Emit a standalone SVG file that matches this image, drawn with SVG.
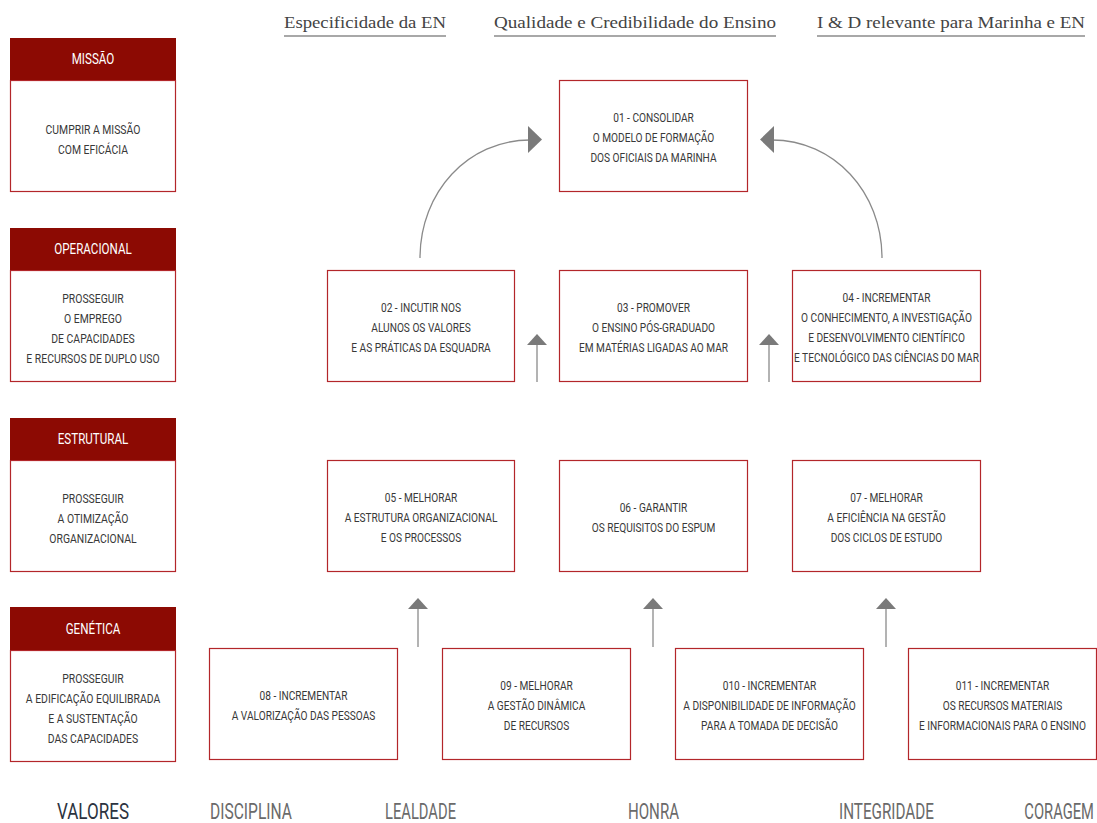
<svg xmlns="http://www.w3.org/2000/svg" width="1097" height="823" viewBox="0 0 1097 823">
  <defs>
    <style>
      .hdr { font-family: "Liberation Serif", "DejaVu Serif", serif; font-size: 16px; fill: #444; }
      .rule { stroke: #a8a8a8; stroke-width: 2; }
      .lvl-head { fill: #8c0a03; }
      .lvl-head-t { font-family: Roboto, "Liberation Sans", sans-serif; font-size: 14.5px; fill: #fff; text-anchor: middle; }
      .box { fill: #fff; stroke: #b3262a; stroke-width: 1.2; }
      .t { font-family: Roboto, "Liberation Sans", sans-serif; font-size: 13px; fill: #383838; text-anchor: middle; }
      .conn { fill: none; stroke: #8a8a8a; stroke-width: 1.3; }
      .head { fill: #7a7a7a; }
      .val { font-family: Roboto, "Liberation Sans", sans-serif; font-size: 22px; fill: #6a6a6a; }
    </style>
  </defs>

  <!-- column headings -->
  <g id="headings">
    <text class="hdr" x="284" y="28" textLength="162" lengthAdjust="spacingAndGlyphs">Especificidade da EN</text>
    <line class="rule" x1="284" y1="36" x2="446" y2="36"/>
    <text class="hdr" x="494" y="28" textLength="282" lengthAdjust="spacingAndGlyphs">Qualidade e Credibilidade do Ensino</text>
    <line class="rule" x1="494" y1="36" x2="776" y2="36"/>
    <text class="hdr" x="817" y="28" textLength="268" lengthAdjust="spacingAndGlyphs">I &amp; D relevante para Marinha e EN</text>
    <line class="rule" x1="817" y1="36" x2="1085" y2="36"/>
  </g>

  <!-- perspective levels -->
  <g id="level-missao">
    <rect class="box" x="10.5" y="80.5" width="165" height="111"/>
    <rect class="lvl-head" x="10" y="38" width="166" height="42"/>
    <g transform="translate(93 0) scale(0.8 1)">
      <text class="lvl-head-t" x="0" y="64">MISSÃO</text>
      <text class="t" x="0" y="134">CUMPRIR A MISSÃO</text>
      <text class="t" x="0" y="154">COM EFICÁCIA</text>
    </g>
  </g>
  <g id="level-operacional">
    <rect class="box" x="10.5" y="270.5" width="165" height="111"/>
    <rect class="lvl-head" x="10" y="228" width="166" height="42"/>
    <g transform="translate(93 0) scale(0.8 1)">
      <text class="lvl-head-t" x="0" y="254">OPERACIONAL</text>
      <text class="t" x="0" y="303">PROSSEGUIR</text>
      <text class="t" x="0" y="323">O EMPREGO</text>
      <text class="t" x="0" y="343">DE CAPACIDADES</text>
      <text class="t" x="0" y="363">E RECURSOS DE DUPLO USO</text>
    </g>
  </g>
  <g id="level-estrutural">
    <rect class="box" x="10.5" y="460.5" width="165" height="111"/>
    <rect class="lvl-head" x="10" y="418" width="166" height="42"/>
    <g transform="translate(93 0) scale(0.8 1)">
      <text class="lvl-head-t" x="0" y="444">ESTRUTURAL</text>
      <text class="t" x="0" y="503">PROSSEGUIR</text>
      <text class="t" x="0" y="523">A OTIMIZAÇÃO</text>
      <text class="t" x="0" y="543">ORGANIZACIONAL</text>
    </g>
  </g>
  <g id="level-genetica">
    <rect class="box" x="10.5" y="650.5" width="165" height="111"/>
    <rect class="lvl-head" x="10" y="607" width="166" height="43"/>
    <g transform="translate(93 0) scale(0.8 1)">
      <text class="lvl-head-t" x="0" y="634">GENÉTICA</text>
      <text class="t" x="0" y="683">PROSSEGUIR</text>
      <text class="t" x="0" y="703">A EDIFICAÇÃO EQUILIBRADA</text>
      <text class="t" x="0" y="723">E A SUSTENTAÇÃO</text>
      <text class="t" x="0" y="743">DAS CAPACIDADES</text>
    </g>
  </g>

  <!-- objectives -->
  <g id="obj-01">
    <rect class="box" x="559.5" y="80.5" width="188" height="111"/>
    <g transform="translate(653.5 0) scale(0.78 1)">
      <text class="t" x="0" y="122">01 - CONSOLIDAR</text>
      <text class="t" x="0" y="142">O MODELO DE FORMAÇÃO</text>
      <text class="t" x="0" y="162">DOS OFICIAIS DA MARINHA</text>
    </g>
  </g>
  <g id="obj-02">
    <rect class="box" x="327.5" y="270.5" width="187" height="111"/>
    <g transform="translate(421 0) scale(0.78 1)">
      <text class="t" x="0" y="312">02 - INCUTIR NOS</text>
      <text class="t" x="0" y="332">ALUNOS OS VALORES</text>
      <text class="t" x="0" y="352">E AS PRÁTICAS DA ESQUADRA</text>
    </g>
  </g>
  <g id="obj-03">
    <rect class="box" x="559.5" y="270.5" width="188" height="111"/>
    <g transform="translate(653.5 0) scale(0.78 1)">
      <text class="t" x="0" y="312">03 - PROMOVER</text>
      <text class="t" x="0" y="332">O ENSINO PÓS-GRADUADO</text>
      <text class="t" x="0" y="352">EM MATÉRIAS LIGADAS AO MAR</text>
    </g>
  </g>
  <g id="obj-04">
    <rect class="box" x="792.5" y="270.5" width="188" height="111"/>
    <g transform="translate(886.5 0) scale(0.78 1)">
      <text class="t" x="0" y="302">04 - INCREMENTAR</text>
      <text class="t" x="0" y="322">O CONHECIMENTO, A INVESTIGAÇÃO</text>
      <text class="t" x="0" y="342">E DESENVOLVIMENTO CIENTÍFICO</text>
      <text class="t" x="0" y="362">E TECNOLÓGICO DAS CIÊNCIAS DO MAR</text>
    </g>
  </g>
  <g id="obj-05">
    <rect class="box" x="327.5" y="460.5" width="187" height="111"/>
    <g transform="translate(421 0) scale(0.78 1)">
      <text class="t" x="0" y="502">05 - MELHORAR</text>
      <text class="t" x="0" y="522">A ESTRUTURA ORGANIZACIONAL</text>
      <text class="t" x="0" y="542">E OS PROCESSOS</text>
    </g>
  </g>
  <g id="obj-06">
    <rect class="box" x="559.5" y="460.5" width="188" height="111"/>
    <g transform="translate(653.5 0) scale(0.78 1)">
      <text class="t" x="0" y="512">06 - GARANTIR</text>
      <text class="t" x="0" y="532">OS REQUISITOS DO ESPUM</text>
    </g>
  </g>
  <g id="obj-07">
    <rect class="box" x="792.5" y="460.5" width="188" height="111"/>
    <g transform="translate(886.5 0) scale(0.78 1)">
      <text class="t" x="0" y="502">07 - MELHORAR</text>
      <text class="t" x="0" y="522">A EFICIÊNCIA NA GESTÃO</text>
      <text class="t" x="0" y="542">DOS CICLOS DE ESTUDO</text>
    </g>
  </g>
  <g id="obj-08">
    <rect class="box" x="209.5" y="648.5" width="188" height="111"/>
    <g transform="translate(303.5 0) scale(0.78 1)">
      <text class="t" x="0" y="700">08 - INCREMENTAR</text>
      <text class="t" x="0" y="720">A VALORIZAÇÃO DAS PESSOAS</text>
    </g>
  </g>
  <g id="obj-09">
    <rect class="box" x="442.5" y="648.5" width="188" height="111"/>
    <g transform="translate(536.5 0) scale(0.78 1)">
      <text class="t" x="0" y="690">09 - MELHORAR</text>
      <text class="t" x="0" y="710">A GESTÃO DINÂMICA</text>
      <text class="t" x="0" y="730">DE RECURSOS</text>
    </g>
  </g>
  <g id="obj-010">
    <rect class="box" x="675.5" y="648.5" width="188" height="111"/>
    <g transform="translate(769.5 0) scale(0.78 1)">
      <text class="t" x="0" y="690">010 - INCREMENTAR</text>
      <text class="t" x="0" y="710">A DISPONIBILIDADE DE INFORMAÇÃO</text>
      <text class="t" x="0" y="730">PARA A TOMADA DE DECISÃO</text>
    </g>
  </g>
  <g id="obj-011">
    <rect class="box" x="908.5" y="648.5" width="188" height="111"/>
    <g transform="translate(1002.5 0) scale(0.78 1)">
      <text class="t" x="0" y="690">011 - INCREMENTAR</text>
      <text class="t" x="0" y="710">OS RECURSOS MATERIAIS</text>
      <text class="t" x="0" y="730">E INFORMACIONAIS PARA O ENSINO</text>
    </g>
  </g>

  <!-- connectors -->
  <g id="connectors">
    <path class="conn" d="M420,258 C420,192 468,140 530,140"/>
    <polygon class="head" points="528,126 542,139.5 528,153"/>
    <path class="conn" d="M882,258 C882,192 834,140 772,140"/>
    <polygon class="head" points="774,126 760,139.5 774,153"/>

    <line class="conn" x1="537" y1="382" x2="537" y2="344"/>
    <polygon class="head" points="537,334 547,345 527,345"/>
    <line class="conn" x1="769" y1="382" x2="769" y2="344"/>
    <polygon class="head" points="769,334 779,345 759,345"/>

    <line class="conn" x1="418" y1="647" x2="418" y2="608"/>
    <polygon class="head" points="418,598 428,609 408,609"/>
    <line class="conn" x1="653" y1="647" x2="653" y2="608"/>
    <polygon class="head" points="653,598 663,609 643,609"/>
    <line class="conn" x1="886" y1="647" x2="886" y2="608"/>
    <polygon class="head" points="886,598 896,609 876,609"/>
  </g>

  <!-- values -->
  <g id="values">
    <text class="val" x="57" y="819" textLength="72" lengthAdjust="spacingAndGlyphs" style="fill:#2c3340">VALORES</text>
    <text class="val" x="210" y="819" textLength="82" lengthAdjust="spacingAndGlyphs">DISCIPLINA</text>
    <text class="val" x="385" y="819" textLength="71" lengthAdjust="spacingAndGlyphs">LEALDADE</text>
    <text class="val" x="628" y="819" textLength="51" lengthAdjust="spacingAndGlyphs">HONRA</text>
    <text class="val" x="839" y="819" textLength="95" lengthAdjust="spacingAndGlyphs">INTEGRIDADE</text>
    <g transform="translate(1094 819) scale(0.67 1)">
      <text class="val" x="0" y="0" text-anchor="end">CORAGEM</text>
    </g>
  </g>
</svg>
